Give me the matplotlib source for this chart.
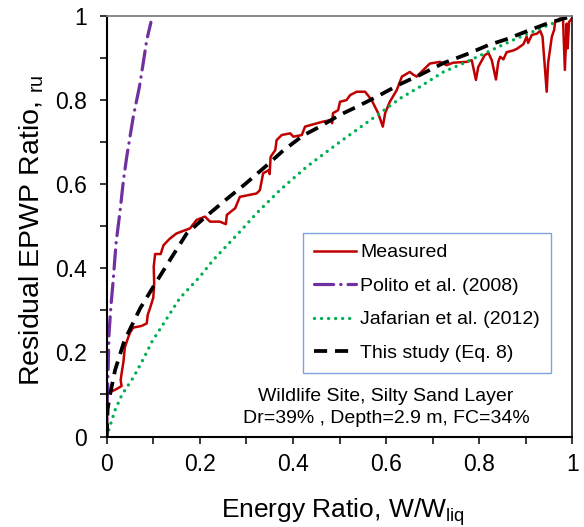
import matplotlib
matplotlib.use('Agg')
import matplotlib.pyplot as plt
from matplotlib.ticker import MultipleLocator

plt.rcParams['font.family'] = ['Liberation Sans', 'DejaVu Sans']
plt.rcParams['mathtext.fontset'] = 'custom'
plt.rcParams['mathtext.rm'] = 'Liberation Sans'

# measured residual EPWP ratio vs energy ratio
meas_x = [0, 0.001, 0.018, 0.032, 0.030, 0.032, 0.036, 0.039, 0.046, 0.050, 0.057, 0.075,
          0.086, 0.088, 0.093, 0.100, 0.102, 0.101, 0.104, 0.116, 0.122, 0.136, 0.150, 0.179,
          0.193, 0.211, 0.222, 0.243, 0.256, 0.258, 0.276, 0.283, 0.286, 0.322, 0.329, 0.336,
          0.349, 0.350, 0.352, 0.362, 0.365, 0.376, 0.394, 0.401, 0.419, 0.426, 0.465, 0.483,
          0.484, 0.486, 0.497, 0.501, 0.515, 0.523, 0.537, 0.555, 0.569, 0.583, 0.593, 0.598,
          0.608, 0.623, 0.634, 0.651, 0.659, 0.666, 0.673, 0.694, 0.716, 0.730, 0.744, 0.773,
          0.784, 0.793, 0.798, 0.812, 0.820, 0.827, 0.836, 0.841, 0.845, 0.852, 0.859, 0.873,
          0.881, 0.895, 0.902, 0.905, 0.913, 0.924, 0.931, 0.936, 0.945, 0.948, 0.956, 0.961,
          0.963, 0.970, 0.973, 0.980, 0.984, 0.988, 0.990, 0.993, 0.999]
meas_y = [0, 0.103, 0.111, 0.120, 0.134, 0.150, 0.178, 0.212, 0.235, 0.247, 0.259, 0.263,
          0.269, 0.289, 0.305, 0.330, 0.364, 0.404, 0.434, 0.434, 0.455, 0.471, 0.483, 0.495,
          0.515, 0.523, 0.511, 0.511, 0.505, 0.527, 0.543, 0.562, 0.570, 0.578, 0.586, 0.626,
          0.634, 0.624, 0.665, 0.681, 0.705, 0.717, 0.721, 0.713, 0.717, 0.737, 0.749, 0.753,
          0.745, 0.769, 0.776, 0.796, 0.800, 0.812, 0.820, 0.820, 0.800, 0.769, 0.737, 0.769,
          0.796, 0.824, 0.856, 0.867, 0.860, 0.856, 0.864, 0.887, 0.891, 0.883, 0.889, 0.891,
          0.895, 0.848, 0.879, 0.907, 0.912, 0.895, 0.849, 0.891, 0.903, 0.897, 0.914, 0.918,
          0.922, 0.933, 0.951, 0.936, 0.955, 0.958, 0.965, 0.951, 0.820, 0.888, 0.951, 0.967,
          0.986, 0.990, 0.994, 0.994, 0.872, 0.982, 0.923, 0.986, 0.994]

# Polito et al. (2008)
polito_x = [0, 0.001, 0.003, 0.005, 0.009, 0.014, 0.020, 0.029, 0.036, 0.043, 0.057, 0.070,
            0.078, 0.086, 0.095]
polito_y = [0, 0.08, 0.16, 0.245, 0.309, 0.372, 0.459, 0.539, 0.610, 0.665, 0.760, 0.830,
            0.885, 0.943, 0.985]

# Jafarian et al. (2012)
jaf_x = [0, 0.007, 0.018, 0.033, 0.057, 0.079, 0.097, 0.157, 0.200, 0.229, 0.286, 0.322,
         0.372, 0.430, 0.500, 0.587, 0.630, 0.673, 0.723, 0.773, 0.823, 0.873, 0.924, 0.974, 1.0]
jaf_y = [0, 0.025, 0.063, 0.100, 0.140, 0.185, 0.225, 0.329, 0.380, 0.420, 0.487, 0.531,
         0.586, 0.642, 0.700, 0.769, 0.804, 0.832, 0.867, 0.891, 0.917, 0.943, 0.967, 0.990, 1.0]

# This study (Eq. 8)
eq8_x = [0, 0.001, 0.002, 0.007, 0.018, 0.038, 0.072, 0.100, 0.136, 0.172, 0.215, 0.258,
         0.297, 0.344, 0.379, 0.422, 0.458, 0.501, 0.537, 0.580, 0.630, 0.673, 0.723, 0.773,
         0.820, 0.859, 0.905, 0.948, 1.0]
eq8_y = [0, 0.03, 0.065, 0.099, 0.158, 0.228, 0.305, 0.356, 0.420, 0.483, 0.525, 0.565,
         0.600, 0.645, 0.680, 0.716, 0.737, 0.765, 0.784, 0.808, 0.838, 0.860, 0.888, 0.909,
         0.931, 0.945, 0.965, 0.983, 1.0]

ticks = [0, 0.2, 0.4, 0.6, 0.8, 1.0]
tick_labels = ['0', '0.2', '0.4', '0.6', '0.8', '1']

fig = plt.figure(figsize=(5.84, 5.27), dpi=100)
ax = fig.add_axes([0.1827, 0.1717, 0.7973, 0.7979])

ax.plot(meas_x, meas_y, color='#C00000', lw=1.8, label='Measured')
ax.plot(polito_x, polito_y, color='#7030A0', lw=2.3, dashes=(6, 2.2, 0.1, 2.2),
        dash_capstyle='round', label='Polito et al. (2008)')
ax.plot(jaf_x, jaf_y, color='#00B050', lw=2.4, dashes=(0.01, 2.1),
        dash_capstyle='round', label='Jafarian et al. (2012)')
ax.plot(eq8_x, eq8_y, color='black', lw=2.7, dashes=(3.5, 2.1), label='This study (Eq. 8)')

ax.set_xlim(0, 1)
ax.set_ylim(0, 1)
ax.set_xticks(ticks)
ax.set_xticklabels(tick_labels)
ax.set_yticks(ticks)
ax.set_yticklabels(tick_labels)
ax.xaxis.set_minor_locator(MultipleLocator(0.1))
ax.yaxis.set_minor_locator(MultipleLocator(0.1))
ax.tick_params(which='both', direction='out', length=4.8, width=1.1, top=False, right=False)
ax.tick_params(axis='x', labelsize=16.5, pad=7)
ax.tick_params(axis='y', labelsize=16.5, pad=9.5)

for s in ['left', 'bottom']:
    ax.spines[s].set_linewidth(1.5)
ax.spines['right'].set_linewidth(1.1)
ax.spines['top'].set_linewidth(1.3)
ax.spines['top'].set_color('#808080')

ax.set_xlabel(r'Energy Ratio, W/W$\mathregular{_{liq}}$', fontsize=19)
ax.set_ylabel(r'Residual EPWP Ratio, $\mathregular{_{ru}}$', fontsize=20.5)
ax.xaxis.set_label_coords(0.508, -0.142)
ax.yaxis.set_label_coords(-0.13, 0.49)

leg = ax.legend(loc='upper left', bbox_to_anchor=(303 / 584, 1 - 233 / 527),
                bbox_transform=fig.transFigure, borderaxespad=0, fontsize=14,
                fancybox=False, frameon=True, handlelength=2.2, handletextpad=0.2,
                labelspacing=0.82, borderpad=0.55)
leg.get_frame().set_edgecolor('#5B8FD6')
leg.get_frame().set_linewidth(1.0)

ax.text(0.600, 0.068, 'Wildlife Site, Silty Sand Layer\nDr=39% , Depth=2.9 m, FC=34%',
        ha='center', va='center', fontsize=14, linespacing=1.38)

fig.savefig('out.png', dpi=100)
